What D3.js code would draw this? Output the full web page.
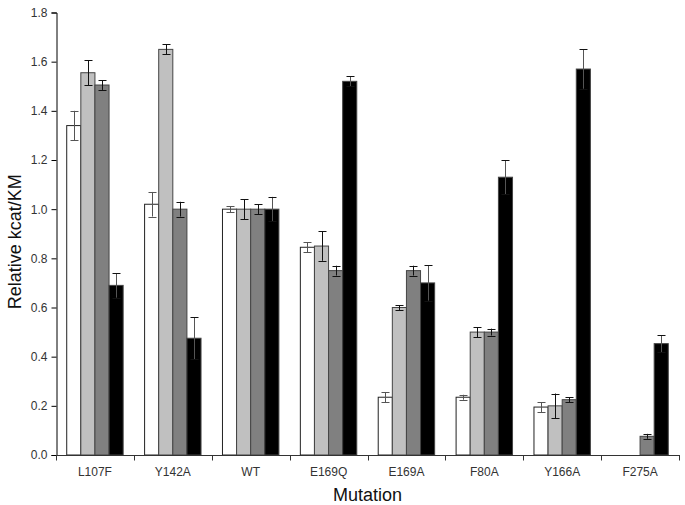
<!DOCTYPE html>
<html>
<head>
<meta charset="utf-8">
<script src="https://cdn.jsdelivr.net/npm/d3@7"></script>
<style>
  html, body { margin: 0; padding: 0; background: #fff; }
  svg { display: block; font-family: "Liberation Sans", Arial, sans-serif; }
</style>
</head>
<body>
<svg id="chart" width="685" height="505"></svg>
<script>
const categories = ["L107F", "Y142A", "WT", "E169Q", "E169A", "F80A", "Y166A", "F275A"];
const seriesNames = ["Series 1", "Series 2", "Series 3", "Series 4"];
const seriesColors = ["#ffffff", "#c0c0c0", "#808080", "#000000"];
// values per series, in category order (null = not shown)
const series1 = [1.34, 1.02, 1.00, 0.845, 0.235, 0.235, 0.195, null];
const series2 = [1.555, 1.65, 1.00, 0.85, 0.60, 0.50, 0.20, null];
const series3 = [1.505, 1.00, 1.00, 0.75, 0.75, 0.50, 0.225, 0.076];
const series4 = [0.69, 0.475, 1.00, 1.52, 0.70, 1.13, 1.57, 0.453];
const errors1 = [0.06, 0.05, 0.012, 0.02, 0.02, 0.01, 0.02, null];
const errors2 = [0.05, 0.02, 0.04, 0.06, 0.01, 0.02, 0.05, null];
const errors3 = [0.02, 0.03, 0.02, 0.02, 0.02, 0.014, 0.01, 0.01];
const errors4 = [0.05, 0.085, 0.05, 0.02, 0.072, 0.07, 0.08, 0.034];
const yTicks = [0, 0.2, 0.4, 0.6, 0.8, 1.0, 1.2, 1.4, 1.6, 1.8];

const allValues = [series1, series2, series3, series4];
const allErrors = [errors1, errors2, errors3, errors4];

const svg = d3.select("#chart");
const mLeft = 56, mRight = 679, mTop = 12.5, mBottom = 455;

const x0 = d3.scaleBand().domain(categories).range([mLeft, mRight]).paddingInner(0).paddingOuter(0);
const x1 = d3.scaleBand().domain(seriesNames).range([0, x0.bandwidth()]).paddingInner(0).paddingOuter(0.76);
const y = d3.scaleLinear().domain([0, 1.8]).range([mBottom, mTop]);

const data = [];
categories.forEach((c, i) => {
  seriesNames.forEach((s, j) => {
    const v = allValues[j][i];
    if (v !== null) data.push({ cat: c, s: s, j: j, v: v, e: allErrors[j][i] });
  });
});

// bars
svg.append("g").selectAll("rect").data(data).join("rect")
  .attr("x", d => x0(d.cat) + x1(d.s))
  .attr("y", d => y(d.v))
  .attr("width", x1.bandwidth())
  .attr("height", d => y(0) - y(d.v))
  .attr("fill", d => seriesColors[d.j])
  .attr("stroke", d => d.j === 0 ? "#222" : "#444")
  .attr("stroke-width", 1);

// error bars
const eg = svg.append("g").attr("stroke-width", 1).attr("fill", "none");
data.forEach(d => {
  const cx = Math.round(x0(d.cat) + x1(d.s) + x1.bandwidth() / 2) + 0.5;
  const col = d.j === 0 ? "#555" : "#111";
  eg.append("line").attr("x1", cx).attr("x2", cx)
    .attr("y1", y(d.v - d.e)).attr("y2", y(d.v + d.e)).attr("stroke", d.j === 3 ? "#555" : col);
  [d.v - d.e, d.v + d.e].forEach(val => {
    eg.append("line").attr("x1", cx - 4).attr("x2", cx + 4)
      .attr("y1", Math.round(y(val)) + 0.5).attr("y2", Math.round(y(val)) + 0.5)
      .attr("stroke", col);
  });
});

// y axis
const yAxis = d3.axisLeft(y).tickValues(yTicks).tickFormat(d3.format(".1f")).tickSizeOuter(0).tickSize(5).tickPadding(4);
const yg = svg.append("g").attr("transform", `translate(${mLeft + 0.5},0)`).call(yAxis);
yg.select(".domain").attr("stroke", "#000");
yg.selectAll(".tick line").attr("stroke", "#000");
yg.selectAll("text").attr("font-size", 12).attr("fill", "#333").attr("font-family", "Liberation Sans, Arial, sans-serif");

// x axis
const xg = svg.append("g").attr("transform", `translate(0,${mBottom + 0.5})`);
xg.append("line").attr("x1", mLeft).attr("x2", mRight + 1).attr("y1", 0).attr("y2", 0).attr("stroke", "#333");
const boundaries = categories.map(c => x0(c)).concat([mRight]);
xg.selectAll("line.tk").data(boundaries).join("line").attr("class", "tk")
  .attr("x1", d => Math.round(d) + 0.5).attr("x2", d => Math.round(d) + 0.5)
  .attr("y1", 0).attr("y2", 5).attr("stroke", "#333");
xg.selectAll("text").data(categories).join("text")
  .attr("x", d => x0(d) + x0.bandwidth() / 2)
  .attr("y", 20)
  .attr("text-anchor", "middle")
  .attr("font-size", 12).attr("fill", "#333")
  .text(d => d);

// axis titles
svg.append("text").attr("x", (mLeft + mRight) / 2).attr("y", 501)
  .attr("text-anchor", "middle").attr("font-size", 18).attr("fill", "#111").text("Mutation");
svg.append("text").attr("transform", `translate(21,${(mTop + mBottom) / 2 + 8}) rotate(-90)`)
  .attr("text-anchor", "middle").attr("font-size", 18).attr("fill", "#111").text("Relative kcat/KM");
</script>
</body>
</html>
